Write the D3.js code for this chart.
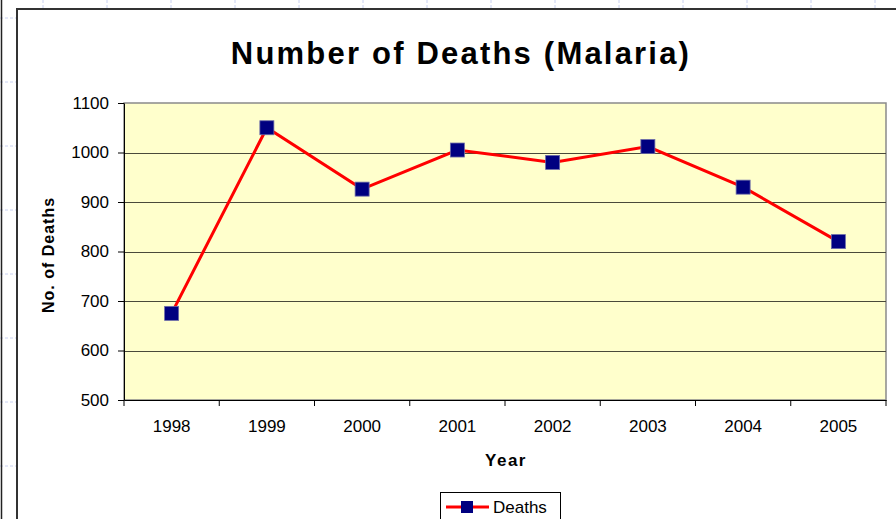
<!DOCTYPE html>
<html>
<head>
<meta charset="utf-8">
<script src="https://cdn.jsdelivr.net/npm/d3@7"></script>
<style>
  body { margin: 0; background: #fff; }
  svg { display: block; font-family: "Liberation Sans", Arial, sans-serif; }
</style>
</head>
<body>
<div id="chart"></div>
<script>
var years = ["1998", "1999", "2000", "2001", "2002", "2003", "2004", "2005"];
var deaths = [675, 1050, 926, 1005, 980, 1012, 930, 820];
var yTicks = [500, 600, 700, 800, 900, 1000, 1100];

var props = {
  width : 896,
  height : 519,
  plotLeft : 124,
  plotRight : 886,
  plotTop : 103,
  plotBottom : 400
};
var font = "'Liberation Sans', Arial, sans-serif";

var svg = d3.select("#chart").append("svg")
  .attr("width", props.width)
  .attr("height", props.height);

// faint spreadsheet cells behind the chart
var cells = svg.append("g").attr("class", "cells");
for (var cx = 43; cx < props.width; cx += 64) {
  cells.append("line").attr("x1", cx).attr("x2", cx).attr("y1", 0).attr("y2", props.height)
    .style("stroke", "#c8d0f0").style("stroke-width", 1).style("stroke-dasharray", "3,2");
}
for (var cy = 18; cy < props.height; cy += 64) {
  cells.append("line").attr("x1", 0).attr("x2", props.width).attr("y1", cy).attr("y2", cy)
    .style("stroke", "#c8d0f0").style("stroke-width", 1).style("stroke-dasharray", "3,2");
}
svg.append("line").attr("x1", 1.5).attr("x2", 1.5).attr("y1", 0).attr("y2", props.height)
  .style("stroke", "#222").style("stroke-width", 1.5);

// chart frame
svg.append("rect")
  .attr("x", 17).attr("y", 9)
  .attr("width", props.width + 10).attr("height", props.height + 10)
  .style("fill", "#fff").style("stroke", "#333").style("stroke-width", 2);

var x = d3.scaleBand().domain(years).range([props.plotLeft, props.plotRight]);
var y = d3.scaleLinear().domain([500, 1100]).range([props.plotBottom, props.plotTop]);

// plot area
svg.append("rect")
  .attr("x", props.plotLeft).attr("y", props.plotTop)
  .attr("width", props.plotRight - props.plotLeft)
  .attr("height", props.plotBottom - props.plotTop)
  .style("fill", "#ffffcc").style("stroke", "#8a8a8a").style("stroke-width", 1.5);

svg.append("g").selectAll(".grid")
  .data(yTicks.slice(1, -1))
  .enter().append("line")
  .attr("class", "grid")
  .attr("x1", props.plotLeft).attr("x2", props.plotRight)
  .attr("y1", function(d){ return Math.round(y(d)) + 0.5; })
  .attr("y2", function(d){ return Math.round(y(d)) + 0.5; })
  .style("stroke", "#4a4a3a").style("stroke-width", 1);

// axes
var yAxis = svg.append("g")
  .attr("transform", "translate(" + props.plotLeft + ",0)")
  .call(d3.axisLeft(y).tickValues(yTicks).tickFormat(d3.format("d"))
    .tickSize(6).tickPadding(9).tickSizeOuter(0));
yAxis.selectAll("text").style("font-size", "17px").style("font-family", font).style("fill", "#000");
yAxis.selectAll("line, path").style("stroke", "#000");

var xAxis = svg.append("g")
  .attr("transform", "translate(0," + props.plotBottom + ")")
  .call(d3.axisBottom(x).tickSize(0).tickPadding(20));
xAxis.select(".domain").style("stroke", "#000");
xAxis.selectAll("text").style("font-size", "17px").style("font-family", font).style("fill", "#000");
xAxis.selectAll(".tick line").remove();

// ticks between categories
svg.append("g").selectAll(".xtick")
  .data(years)
  .enter().append("line")
  .attr("class", "xtick")
  .attr("x1", function(d){ return x(d) + x.bandwidth(); })
  .attr("x2", function(d){ return x(d) + x.bandwidth(); })
  .attr("y1", props.plotBottom).attr("y2", props.plotBottom + 6)
  .style("stroke", "#000");
svg.append("line")
  .attr("x1", props.plotLeft).attr("x2", props.plotLeft)
  .attr("y1", props.plotBottom).attr("y2", props.plotBottom + 6)
  .style("stroke", "#000");

// line + markers
var line = d3.line()
  .x(function(d, i){ return x(years[i]) + x.bandwidth() / 2; })
  .y(function(d){ return y(d); });

svg.append("path")
  .datum(deaths)
  .attr("d", line)
  .style("fill", "none").style("stroke", "#ff0000").style("stroke-width", 3);

svg.append("g").selectAll(".pt")
  .data(deaths)
  .enter().append("rect")
  .attr("class", "pt")
  .attr("x", function(d, i){ return x(years[i]) + x.bandwidth() / 2 - 7; })
  .attr("y", function(d){ return y(d) - 7; })
  .attr("width", 14).attr("height", 14)
  .style("fill", "#000080").style("stroke", "#6a6aa8").style("stroke-width", 0.8);

// titles
svg.append("text")
  .attr("x", 461).attr("y", 64)
  .attr("text-anchor", "middle")
  .style("font-size", "31px").style("font-weight", "bold").style("letter-spacing", "2.2px")
  .text("Number of Deaths (Malaria)");

svg.append("text")
  .attr("x", 506).attr("y", 466)
  .attr("text-anchor", "middle")
  .style("font-size", "17px").style("font-weight", "bold").style("letter-spacing", "1.5px")
  .text("Year");

svg.append("text")
  .attr("transform", "translate(54,255) rotate(-90)")
  .attr("text-anchor", "middle")
  .style("font-size", "16px").style("font-weight", "bold").style("letter-spacing", "1px")
  .text("No. of Deaths");

// legend
var legend = svg.append("g").attr("transform", "translate(440,492)");
legend.append("rect")
  .attr("x", 0.5).attr("y", 0.5).attr("width", 120).attr("height", 40)
  .style("fill", "#fff").style("stroke", "#000").style("stroke-width", 1);
legend.append("line")
  .attr("x1", 6).attr("x2", 49).attr("y1", 15).attr("y2", 15)
  .style("stroke", "#ff0000").style("stroke-width", 3);
legend.append("rect")
  .attr("x", 21).attr("y", 9).attr("width", 12).attr("height", 12)
  .style("fill", "#000080");
legend.append("text")
  .attr("x", 53).attr("y", 21)
  .style("font-size", "17px")
  .text("Deaths");
</script>
</body>
</html>
